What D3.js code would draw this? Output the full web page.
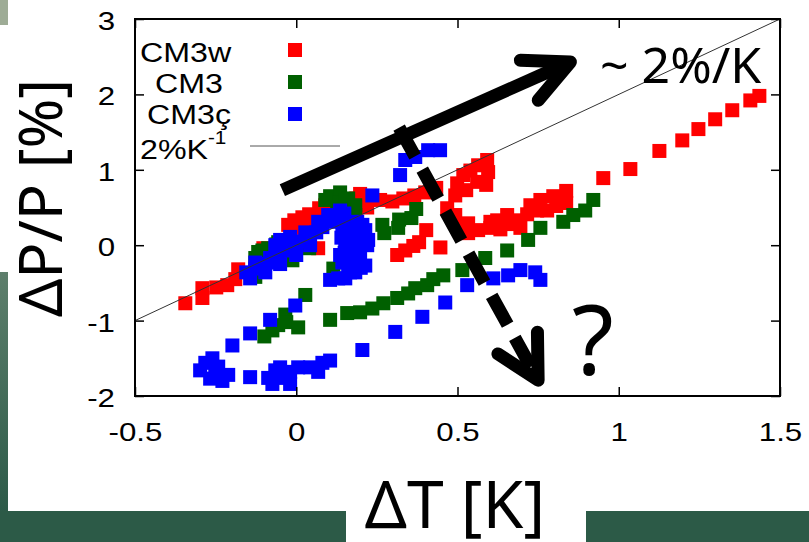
<!DOCTYPE html>
<html>
<head>
<meta charset="utf-8">
<script src="https://cdn.jsdelivr.net/npm/d3@7"></script>
<style>
  body { margin: 0; background: #fff; }
  svg { display: block; }
</style>
</head>
<body>
<div id="canvas"></div>
<script>
// ---------------- data ----------------
const seriesNames = ["CM3w", "CM3", "CM3ç"];
const seriesColors = ["#ff0000", "#006000", "#0000ff"];

// CM3w (red)
const cm3w = [
  [-0.344,-0.77],[-0.291,-0.70],[-0.291,-0.57],[-0.248,-0.56],[-0.214,-0.53],[-0.189,-0.45],[-0.180,-0.32],[-0.102,-0.04],
  [-0.006,0.23],[-0.006,0.33],[0.019,0.37],[0.040,0.41],[0.071,0.49],[0.028,0.25],[0.053,0.33],[0.068,-0.04],
  [-0.025,0.27],[0.012,0.27],[0.043,0.31],[0.090,0.53],
  [0.198,0.68],[0.223,0.60],[0.220,0.50],[0.186,0.62],[0.260,0.60],
  [0.298,0.58],[0.332,0.62],[0.366,0.66],[0.400,0.70],[0.434,0.76],[0.468,0.49],
  [0.493,0.66],[0.499,0.82],[0.518,0.93],[0.540,0.99],[0.564,1.06],[0.592,1.13],[0.595,0.97],[0.561,0.84],[0.527,0.73],[0.589,0.80],
  [0.313,-0.13],[0.338,-0.07],[0.363,-0.01],[0.381,0.04],[0.403,0.20],[0.447,-0.03],
  [0.493,0.40],[0.509,0.23],[0.533,0.16],[0.533,0.29],[0.564,0.20],[0.602,0.23],[0.602,0.31],[0.623,0.33],[0.633,0.21],
  [0.654,0.40],[0.664,0.28],[0.688,0.33],[0.695,0.23],[0.716,0.41],[0.726,0.53],
  [0.747,0.46],[0.757,0.60],[0.778,0.46],[0.797,0.65],[0.806,0.52],[0.837,0.72],[0.837,0.56],
  [0.952,0.89],[1.036,1.01],[1.126,1.25],[1.197,1.39],[1.247,1.54],[1.299,1.67],[1.352,1.79],[1.408,1.92],[1.436,1.98]
];

// CM3 (green)
const cm3 = [
  [-0.127,-0.17],[-0.105,-0.07],[-0.062,0.01],[-0.012,-0.20],[0.040,-0.04],[0.115,-0.31],[-0.127,-0.42],
  [-0.118,-0.09],[-0.087,-0.04],[-0.056,0.04],
  [0.105,0.65],[0.136,0.70],[0.161,0.62],[0.127,0.56],[0.183,0.53],[0.183,0.40],[0.152,0.60],[0.174,0.44],[0.090,0.60],
  [0.267,0.27],[0.319,0.34],[0.372,0.48],[0.273,0.16],[0.316,0.23],[0.357,0.36],
  [-0.099,-1.21],[-0.074,-1.13],[-0.056,-1.06],[-0.034,-0.92],[-0.031,-1.02],[0.006,-1.09],[0.028,-0.66],
  [0.105,-0.99],[0.158,-0.90],[0.198,-0.89],[0.236,-0.84],[0.270,-0.77],[0.313,-0.70],[0.347,-0.64],[0.369,-0.57],
  [0.406,-0.53],[0.425,-0.45],[0.456,-0.40],[0.515,-0.33],[0.586,-0.17],[0.654,-0.07],[0.719,0.07],[0.757,0.23],
  [0.828,0.31],[0.859,0.40],[0.896,0.46],[0.921,0.60]
];

// CM3c (blue)
const cm3c = [
  [-0.155,-0.36],[-0.127,-0.31],[-0.105,-0.25],[-0.081,-0.17],[-0.056,-0.12],[-0.034,-0.07],[-0.012,-0.01],[0.012,0.05],
  [0.037,0.12],[0.062,0.17],[0.081,0.24],[0.105,0.31],[0.127,0.37],[0.149,0.42],
  [-0.143,-0.44],[-0.096,-0.36],[-0.050,-0.25],[0.000,-0.13],[0.043,0.00],[-0.065,0.00],
  [-0.050,0.07],[-0.019,0.11],[0.028,0.17],[0.068,0.31],[0.099,0.40],[0.136,0.46],[-0.127,-0.23],[-0.065,-0.23],
  [0.143,0.23],[0.167,0.13],[0.152,0.00],[0.174,-0.13],[0.161,-0.27],[0.183,-0.36],[0.152,-0.44],[0.189,0.31],
  [0.136,-0.13],[0.214,0.20],[0.220,0.00],
  [0.161,0.27],[0.205,0.27],[0.223,0.07],[0.198,-0.13],[0.214,-0.27],[0.143,-0.23],[0.167,-0.36],[0.130,-0.44],
  [0.140,0.10],[0.180,0.05],[0.200,0.15],[0.150,-0.10],[0.180,-0.22],[0.200,-0.30],[0.190,0.22],
  [0.105,-0.46],[0.236,0.66],
  [0.322,0.93],[0.338,1.13],[0.369,1.17],[0.409,1.26],[0.446,1.26],
  [0.530,-0.53],[0.611,-0.44],[0.657,-0.40],[0.695,-0.33],[0.741,-0.36],[0.757,-0.46],
  [0.462,-0.76],[0.391,-0.95],[0.307,-1.15],[0.205,-1.39],
  [-0.003,-0.80],[-0.081,-0.99],[-0.143,-1.17],[-0.198,-1.33],
  [-0.298,-1.66],[-0.282,-1.56],[-0.260,-1.50],[-0.242,-1.61],[-0.267,-1.77],[-0.229,-1.80],[-0.211,-1.72],[-0.251,-1.72],
  [-0.143,-1.75],
  [-0.087,-1.76],[-0.065,-1.66],[-0.040,-1.76],[-0.019,-1.68],[0.006,-1.62],[-0.074,-1.84],[-0.019,-1.84],[-0.050,-1.62],
  [0.043,-1.62],[0.081,-1.56],[0.105,-1.53],[0.068,-1.68]
];

const xTicks = [-0.5, 0, 0.5, 1, 1.5];
const xTickLabels = ["-0.5", "0", "0.5", "1", "1.5"];
const yTicks = [-2, -1, 0, 1, 2, 3];
const yTickLabels = ["-2", "-1", "0", "1", "2", "3"];

const refSlope = 2;            // 2 %/K
const refRange = [-0.5, 1.5];

// annotation arrows, in data units: [start, tip]
const upArrow = [[-0.043, 0.73], [0.850, 2.43]];
const downArrow = [[0.319, 1.56], [0.750, -1.79]];

// ---------------- layout ----------------
const width = 809;
const height = 542;
const margin = {top: 19, left: 135, bottom: 146, right: 29};
const iwidth = width - margin.left - margin.right;
const iheight = height - margin.top - margin.bottom;

const svg = d3.select("#canvas").append("svg")
  .attr("width", width)
  .attr("height", height);

// slide background pieces
const defs = svg.append("defs");
const grad = defs.append("linearGradient").attr("id", "strip")
  .attr("x1", 0).attr("y1", 0).attr("x2", 0).attr("y2", 1);
grad.append("stop").attr("offset", "0%").attr("stop-color", "#5e7f6c");
grad.append("stop").attr("offset", "100%").attr("stop-color", "#2c5a48");

svg.append("rect").attr("x", 0).attr("y", 0).attr("width", 8).attr("height", 25).attr("fill", "#9eac96");
svg.append("rect").attr("x", 0).attr("y", 272).attr("width", 8).attr("height", 240).attr("fill", "url(#strip)");
svg.append("rect").attr("x", 0).attr("y", 511).attr("width", 346).attr("height", 31).attr("fill", "#2c5a47");
svg.append("rect").attr("x", 586).attr("y", 511).attr("width", 223).attr("height", 31).attr("fill", "#2c5a47");

const g = svg.append("g").attr("transform", `translate(${margin.left}, ${margin.top})`);

const x = d3.scaleLinear().domain([-0.5, 1.5]).range([0, iwidth]);
const y = d3.scaleLinear().domain([-2, 3]).range([iheight, 0]);

// points
const all = [cm3w, cm3, cm3c];
const sq = 14;
all.forEach((s, i) => {
  g.append("g").selectAll("rect").data(s).enter().append("rect")
    .attr("x", d => x(d[0]) - sq / 2)
    .attr("y", d => y(d[1]) - sq / 2)
    .attr("width", sq)
    .attr("height", sq)
    .attr("fill", seriesColors[i]);
});

// 2%/K reference line
const refLine = d3.line().x(d => x(d)).y(d => y(refSlope * d));
g.append("path")
  .attr("d", refLine(refRange))
  .attr("fill", "none")
  .attr("stroke", "#333")
  .attr("stroke-width", 1);

// axes
const tickFont = (sel) => sel.selectAll("text")
  .style("font-family", "'Liberation Sans', Arial, sans-serif")
  .style("font-size", "25px")
  .attr("fill", "#000")
  .attr("transform", "scale(1.25,1)");

const xAxis = g.append("g")
  .attr("transform", `translate(0, ${iheight})`)
  .call(d3.axisBottom(x).tickValues(xTicks).tickSize(-9).tickSizeOuter(0).tickPadding(27)
    .tickFormat((d, i) => xTickLabels[i]));
xAxis.call(tickFont);

const yAxis = g.append("g")
  .call(d3.axisLeft(y).tickValues(yTicks).tickSize(-9).tickSizeOuter(0).tickPadding(16)
    .tickFormat((d, i) => yTickLabels[i]));
yAxis.call(tickFont);
yAxis.selectAll("text").attr("dy", "0.42em");

g.append("g")
  .call(d3.axisTop(x).tickValues(xTicks).tickSize(-9).tickSizeOuter(0).tickFormat(""));
g.append("g")
  .attr("transform", `translate(${iwidth}, 0)`)
  .call(d3.axisRight(y).tickValues(yTicks).tickSize(-9).tickSizeOuter(0).tickFormat(""));

g.selectAll(".domain").remove();
g.selectAll(".tick line").attr("stroke", "#000").attr("stroke-width", 1.5);

g.append("rect")
  .attr("width", iwidth)
  .attr("height", iheight)
  .attr("fill", "none")
  .attr("stroke", "#000")
  .attr("stroke-width", 2);

// legend
const legFont = "'Liberation Sans', Arial, sans-serif";
const legX = [140 - margin.left, 155 - margin.left, 147 - margin.left];
const legBase = [62, 93, 124];
seriesNames.forEach((n, i) => {
  g.append("text")
    .attr("transform", `translate(${legX[i]}, ${legBase[i] - margin.top}) scale(1.15,1)`)
    .style("font-family", legFont)
    .style("font-size", "28px")
    .text(n);
  g.append("rect")
    .attr("x", 295 - margin.left - sq / 2)
    .attr("y", 50 + 32 * i - margin.top - sq / 2)
    .attr("width", sq)
    .attr("height", sq)
    .attr("fill", seriesColors[i]);
});
const refLabel = g.append("text")
  .attr("transform", `translate(${140 - margin.left}, ${159 - margin.top}) scale(1.15,1)`)
  .style("font-family", legFont)
  .style("font-size", "28px")
  .text("2%K");
refLabel.append("tspan").attr("dy", -15).style("font-size", "18px").text("-1");
g.append("line")
  .attr("x1", 250 - margin.left).attr("x2", 340 - margin.left)
  .attr("y1", 146 - margin.top).attr("y2", 146 - margin.top)
  .attr("stroke", "#555").attr("stroke-width", 1);

// annotation arrows
function drawArrow(pts, dash, spread, len) {
  const p0 = [x(pts[0][0]), y(pts[0][1])];
  const p1 = [x(pts[1][0]), y(pts[1][1])];
  const ang = Math.atan2(p1[1] - p0[1], p1[0] - p0[0]) + Math.PI;
  const a = spread * Math.PI / 180;
  const arm1 = [p1[0] + len * Math.cos(ang + a), p1[1] + len * Math.sin(ang + a)];
  const arm2 = [p1[0] + len * Math.cos(ang - a), p1[1] + len * Math.sin(ang - a)];
  g.append("line")
    .attr("x1", p0[0]).attr("y1", p0[1]).attr("x2", p1[0]).attr("y2", p1[1])
    .attr("stroke", "#000").attr("stroke-width", 13)
    .attr("stroke-dasharray", dash);
  g.append("path")
    .attr("d", `M${arm1[0]},${arm1[1]}L${p1[0]},${p1[1]}L${arm2[0]},${arm2[1]}`)
    .attr("fill", "none")
    .attr("stroke", "#000").attr("stroke-width", 13)
    .attr("stroke-linecap", "round").attr("stroke-linejoin", "round");
}
drawArrow(upArrow, null, 26, 50);
drawArrow(downArrow, "33,15", 28, 48);

// slide texts
const slideFont = "'Noto Sans', 'Open Sans', sans-serif";
svg.append("text")
  .attr("x", 600).attr("y", 83)
  .style("font-family", slideFont).style("font-size", "50px")
  .text("~ 2%/K");
svg.append("text")
  .attr("x", 572).attr("y", 375)
  .style("font-family", slideFont).style("font-size", "96px")
  .text("?");
svg.append("text")
  .attr("x", 455).attr("y", 528)
  .attr("text-anchor", "middle")
  .style("font-family", slideFont).style("font-size", "66px")
  .text("ΔT [K]");
svg.append("text")
  .attr("transform", "translate(62, 198) rotate(-90)")
  .attr("text-anchor", "middle")
  .style("font-family", slideFont).style("font-size", "60px")
  .text("ΔP/P [%]");
</script>
</body>
</html>
